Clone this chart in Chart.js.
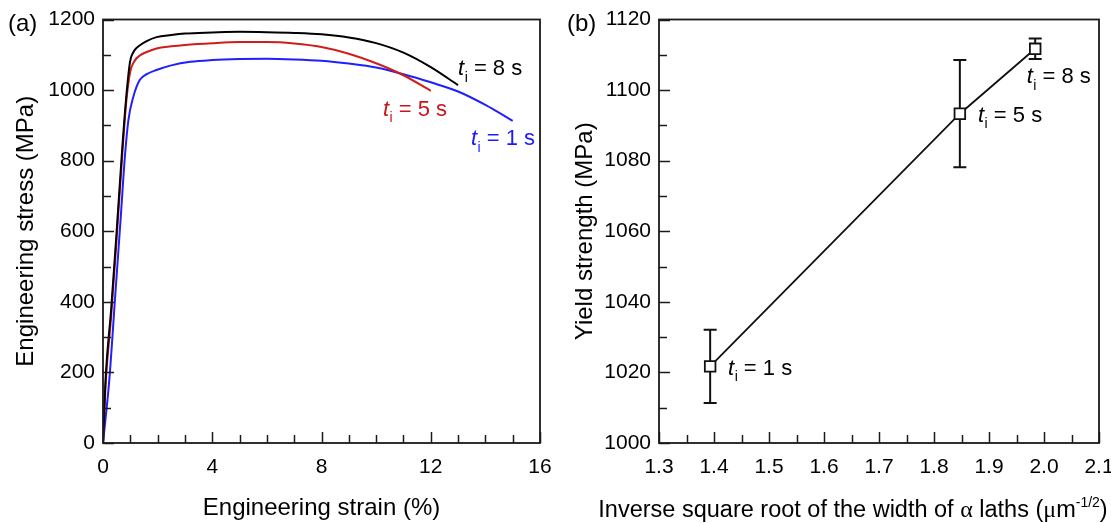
<!DOCTYPE html>
<html>
<head>
<meta charset="utf-8">
<script src="https://cdn.jsdelivr.net/npm/chart.js@4.4.0/dist/chart.umd.min.js"></script>
<style>
  body { margin: 0; background: #fff; }
  .panel { position: absolute; top: 0; height: 523px; }
  #panelA { left: 0; width: 556px; }
  #panelB { left: 556px; width: 555px; }
</style>
</head>
<body>
<div class="panel" id="panelA"><canvas id="stressChart"></canvas></div>
<div class="panel" id="panelB"><canvas id="yieldChart"></canvas></div>
<script>
const FONT = 'Arial, "Liberation Sans", sans-serif';
const SERIF = '"Times New Roman", "Liberation Serif", serif';

// (a) engineering stress-strain curves for each isothermal holding time
const strain1 = [0, 0.23, 0.45, 0.65, 0.8, 0.93, 1.11, 1.35, 1.6, 1.96, 2.5, 3.2, 4, 5, 6, 7, 8, 9, 10, 11, 12, 13, 14, 15];
const stress1 = [0, 178, 420, 640, 810, 915, 981, 1029, 1045, 1057, 1070, 1080, 1085, 1088, 1089, 1087, 1083, 1075, 1064, 1045, 1022, 996, 958, 913];

const strain5 = [0, 0.1, 0.3, 0.5, 0.7, 0.85, 0.99, 1.15, 1.35, 1.6, 1.96, 2.5, 3, 4, 5, 6, 7, 8, 9, 10, 11, 12];
const stress5 = [0, 170, 360, 580, 810, 965, 1050, 1082, 1098, 1108, 1118, 1124, 1128, 1133, 1136, 1136, 1132, 1122, 1103, 1076, 1042, 998];

const strain8 = [0, 0.1, 0.3, 0.5, 0.7, 0.85, 0.99, 1.15, 1.35, 1.6, 1.96, 2.5, 3, 4, 5, 6, 7, 8, 9, 10, 11, 12, 13];
const stress8 = [0, 190, 380, 600, 830, 980, 1080, 1112, 1127, 1139, 1150, 1156, 1160, 1163, 1165, 1164, 1162, 1158, 1149, 1133, 1106, 1065, 1014];

// (b) yield strength against inverse square root of alpha lath width
const lathInvSqrt = [1.393, 1.847, 1.984];
const yieldStrength = [1021.7, 1093.3, 1111.7];
const yieldError = [10.4, 15.2, 2.9];

const toPoints = (xs, ys) => xs.map((x, i) => ({ x, y: ys[i] }));

// box around the plot area plus inward major/minor tick marks
const frameTicks = {
  id: 'frameTicks',
  afterDraw(chart, args, opts) {
    const { ctx, chartArea: a, scales: { x, y } } = chart;
    ctx.save();
    ctx.strokeStyle = '#1a1a1a';
    ctx.lineWidth = 1.5;
    const isMajor = (scale, v) => scale.ticks.some(t => Math.abs(t.value - v) < 1e-6);
    for (let v = x.min; v <= x.max + 1e-9; v += opts.xMinor) {
      const px = Math.round(x.getPixelForValue(v)) + 0.5;
      const len = isMajor(x, v) ? 11 : 8;
      ctx.beginPath(); ctx.moveTo(px, a.bottom); ctx.lineTo(px, a.bottom - len); ctx.stroke();
    }
    for (let v = y.min; v <= y.max + 1e-9; v += opts.yMinor) {
      const py = Math.round(y.getPixelForValue(v)) + 0.5;
      const len = isMajor(y, v) ? 11 : 8;
      ctx.beginPath(); ctx.moveTo(a.left, py); ctx.lineTo(a.left + len, py); ctx.stroke();
    }
    ctx.lineWidth = 1.8;
    ctx.strokeRect(a.left, a.top, a.right - a.left, a.bottom - a.top);
    ctx.fillStyle = '#000';
    ctx.font = '24px ' + FONT;
    ctx.textBaseline = 'middle';
    ctx.textAlign = 'left';
    ctx.fillText(opts.tag, opts.tagX, 24);
    ctx.restore();
  }
};

// "t_i = n s" annotations, italic t with subscript i
function drawTi(ctx, px, py, rest, color, size) {
  ctx.fillStyle = color;
  ctx.textBaseline = 'alphabetic';
  ctx.textAlign = 'left';
  ctx.font = `italic ${size}px ${FONT}`;
  ctx.fillText('t', px, py);
  let cx = px + ctx.measureText('t').width + 0.5;
  const sub = Math.round(size * 0.62);
  ctx.font = `${sub}px ${FONT}`;
  ctx.fillText('i', cx, py + size * 0.3);
  cx += ctx.measureText('i').width;
  ctx.font = `${size}px ${FONT}`;
  ctx.fillText(' = ' + rest, cx, py);
}

const curveLabels = {
  id: 'curveLabels',
  afterDatasetsDraw(chart, args, opts) {
    const { ctx, scales: { x, y } } = chart;
    ctx.save();
    opts.items.forEach(it => {
      drawTi(ctx, x.getPixelForValue(it.x), y.getPixelForValue(it.y), it.text, it.color, 22);
    });
    ctx.restore();
  }
};

const errorBars = {
  id: 'errorBars',
  beforeDatasetsDraw(chart) {
    const { ctx, scales: { x, y } } = chart;
    ctx.save();
    ctx.strokeStyle = '#111';
    ctx.lineWidth = 2;
    lathInvSqrt.forEach((v, i) => {
      const px = x.getPixelForValue(v);
      const top = y.getPixelForValue(yieldStrength[i] + yieldError[i]);
      const bot = y.getPixelForValue(yieldStrength[i] - yieldError[i]);
      ctx.beginPath();
      ctx.moveTo(px, top); ctx.lineTo(px, bot);
      ctx.moveTo(px - 6.5, top); ctx.lineTo(px + 6.5, top);
      ctx.moveTo(px - 6.5, bot); ctx.lineTo(px + 6.5, bot);
      ctx.stroke();
    });
    ctx.restore();
  }
};

// x title of (b) needs a serif alpha/mu and a superscript exponent
const lathTitle = {
  id: 'lathTitle',
  afterDraw(chart) {
    const { ctx } = chart;
    const parts = [
      { t: 'Inverse square root of the width of ', f: '23.5px ' + FONT },
      { t: 'α', f: '24px ' + SERIF },
      { t: ' laths (', f: '23.5px ' + FONT },
      { t: 'μ', f: '24px ' + SERIF },
      { t: 'm', f: '23.5px ' + FONT },
      { t: '-1/2', f: '14px ' + FONT, dy: -10 },
      { t: ')', f: '23.5px ' + FONT }
    ];
    ctx.save();
    ctx.fillStyle = '#000';
    ctx.textBaseline = 'alphabetic';
    ctx.textAlign = 'left';
    let w = 0;
    parts.forEach(p => { ctx.font = p.f; p.w = ctx.measureText(p.t).width; w += p.w; });
    let cx = 297 - w / 2;
    parts.forEach(p => {
      ctx.font = p.f;
      ctx.fillText(p.t, cx, 517 + (p.dy || 0));
      cx += p.w;
    });
    ctx.restore();
  }
};

const tickFont = { size: 21, family: FONT };
const titleFont = { size: 24, family: FONT };

// fixed axis boxes, no extra room for overhanging edge labels
const fitX = s => { s.height = 80; s.paddingLeft = 0; s.paddingRight = 0; };
const fitY = s => { s.width = 103; s.paddingTop = 0; s.paddingBottom = 0; };

new Chart(document.getElementById('stressChart'), {
  type: 'scatter',
  data: {
    datasets: [
      { label: 't = 8 s', data: toPoints(strain8, stress8), borderColor: '#000000' },
      { label: 't = 5 s', data: toPoints(strain5, stress5), borderColor: '#d01c1c' },
      { label: 't = 1 s', data: toPoints(strain1, stress1), borderColor: '#1f1fff' }
    ].map(d => Object.assign(d, { showLine: true, pointRadius: 0, borderWidth: 2, cubicInterpolationMode: 'monotone', fill: false }))
  },
  options: {
    responsive: true,
    maintainAspectRatio: false,
    animation: false,
    devicePixelRatio: 1,
    layout: { padding: { top: 19.5, right: 16, bottom: 0, left: 0 } },
    scales: {
      x: {
        type: 'linear', min: 0, max: 16,
        ticks: { stepSize: 4, color: '#000', font: tickFont, padding: 12, maxRotation: 0, callback: v => String(v) },
        grid: { display: false, drawTicks: false },
        border: { display: false },
        title: { display: true, text: 'Engineering strain (%)', color: '#000', font: titleFont, padding: { top: 0, bottom: 0 } },
        afterFit: fitX
      },
      y: {
        type: 'linear', min: 0, max: 1200,
        ticks: { stepSize: 200, color: '#000', font: tickFont, padding: 8, callback: v => String(v) },
        grid: { display: false, drawTicks: false },
        border: { display: false },
        title: { display: true, text: 'Engineering stress (MPa)', color: '#000', font: titleFont, padding: { top: 12, bottom: 0 } },
        afterFit: fitY
      }
    },
    plugins: {
      legend: { display: false },
      tooltip: { enabled: false },
      frameTicks: { xMinor: 1, yMinor: 100, tag: '(a)', tagX: 8 },
      curveLabels: {
        items: [
          { x: 13.0, y: 1043, text: '8 s', color: '#000000' },
          { x: 10.25, y: 927, text: '5 s', color: '#c8161d' },
          { x: 13.47, y: 844, text: '1 s', color: '#1a1aff' }
        ]
      }
    }
  },
  plugins: [frameTicks, curveLabels]
});

new Chart(document.getElementById('yieldChart'), {
  type: 'scatter',
  data: {
    datasets: [{
      label: 'Yield strength',
      data: toPoints(lathInvSqrt, yieldStrength),
      showLine: true,
      borderColor: '#111',
      borderWidth: 1.8,
      pointStyle: 'rect',
      pointRadius: 7.5,
      pointBackgroundColor: '#fff',
      pointBorderColor: '#111',
      pointBorderWidth: 1.8
    }]
  },
  options: {
    responsive: true,
    maintainAspectRatio: false,
    animation: false,
    devicePixelRatio: 1,
    layout: { padding: { top: 19.5, right: 12, bottom: 0, left: 0 } },
    scales: {
      x: {
        type: 'linear', min: 1.3, max: 2.1,
        ticks: { stepSize: 0.1, color: '#000', font: tickFont, padding: 12, maxRotation: 0, callback: v => v.toFixed(1) },
        grid: { display: false, drawTicks: false },
        border: { display: false },
        title: { display: false },
        afterFit: fitX
      },
      y: {
        type: 'linear', min: 1000, max: 1120,
        ticks: { stepSize: 20, color: '#000', font: tickFont, padding: 8, callback: v => String(v) },
        grid: { display: false, drawTicks: false },
        border: { display: false },
        title: { display: true, text: 'Yield strength (MPa)', color: '#000', font: titleFont, padding: { top: 15, bottom: 0 } },
        afterFit: fitY
      }
    },
    plugins: {
      legend: { display: false },
      tooltip: { enabled: false },
      frameTicks: { xMinor: 0.05, yMinor: 10, tag: '(b)', tagX: 11 },
      curveLabels: {
        items: [
          { x: 1.4255, y: 1019.3, text: '1 s', color: '#000000' },
          { x: 1.88, y: 1091.0, text: '5 s', color: '#000000' },
          { x: 1.9685, y: 1101.9, text: '8 s', color: '#000000' }
        ]
      }
    }
  },
  plugins: [frameTicks, errorBars, curveLabels, lathTitle]
});
</script>
</body>
</html>
